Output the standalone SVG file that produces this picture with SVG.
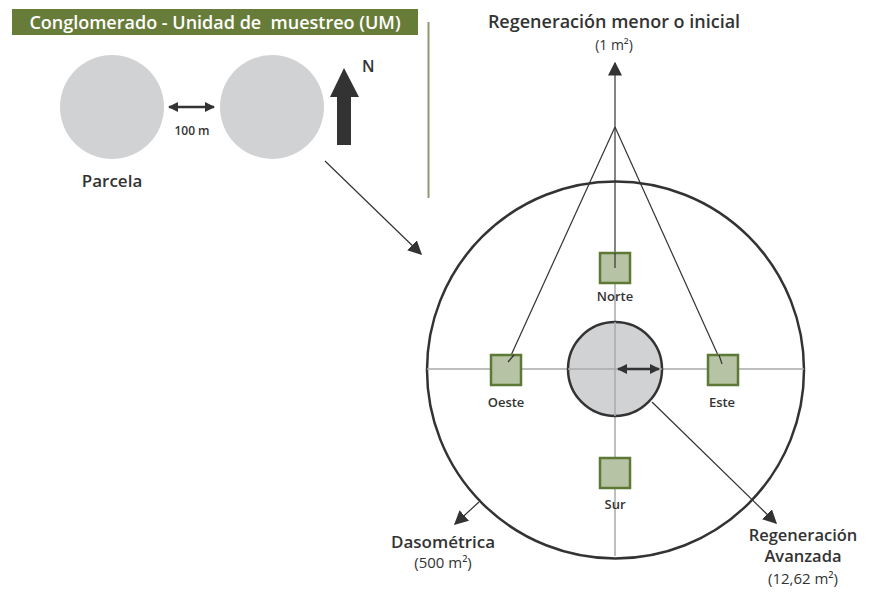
<svg xmlns="http://www.w3.org/2000/svg" width="869" height="593" viewBox="0 0 869 593">
<style>
.t{font-family:"Open Sans","Noto Sans",sans-serif;fill:#333}
.b{font-weight:600}
.l{font-weight:400}
.sq{fill:#b6c3a4;stroke:#5e7836;stroke-width:2.5}
.gl{stroke:#aaa;stroke-width:1.5;fill:none}
.dk{stroke:#333;stroke-width:1.2;fill:none}
</style>
<defs>
<marker id="ah2" viewBox="0 0 10 10" refX="9" refY="5" markerWidth="14" markerHeight="14" markerUnits="userSpaceOnUse" orient="auto"><path d="M0,0 L10,5 L0,10 Z" fill="#333"/></marker>
<marker id="sm" viewBox="0 0 10 10" refX="9" refY="5" markerWidth="10" markerHeight="10" markerUnits="userSpaceOnUse" orient="auto-start-reverse"><path d="M0,0 L10,5 L0,10 Z" fill="#333"/></marker>
</defs>
<rect width="869" height="593" fill="#fff"/>

<g id="header">
<rect x="12" y="9" width="406" height="26" fill="#687c3a"/>
<text class="t b" x="215" y="28.5" font-size="18" text-anchor="middle" style="fill:#fff">Conglomerado - Unidad de&#160; muestreo (UM)</text>
</g>
<line x1="428.5" y1="22" x2="428.5" y2="198" stroke="#8e9a72" stroke-width="2"/>

<g id="parcela1"><circle cx="112" cy="107" r="52" fill="#d1d2d4"/></g>
<g id="parcela2"><circle cx="272" cy="107" r="52" fill="#d1d2d4"/></g>
<text class="t b" x="112" y="187" font-size="17" text-anchor="middle">Parcela</text>
<line x1="169" y1="107" x2="214" y2="107" stroke="#333" stroke-width="2.5" marker-start="url(#sm)" marker-end="url(#sm)"/>
<text class="t b" x="192" y="135" font-size="12" text-anchor="middle">100 m</text>

<g id="north">
<polygon points="344,68 359,97 351,97 351,145 337,145 337,97 330,97" fill="#333"/>
<text class="t b" x="362" y="72" font-size="16">N</text>
</g>

<g id="connectors">
<line class="dk" x1="325" y1="161" x2="421" y2="254" marker-end="url(#ah2)"/>
<line class="gl" x1="615" y1="268" x2="615" y2="556"/>
<line class="dk" x1="615" y1="127" x2="615" y2="63" marker-end="url(#ah2)"/>
<line class="dk" x1="615" y1="127" x2="615" y2="268"/>
<line class="dk" x1="615" y1="127" x2="508" y2="362"/>
<line class="dk" x1="615" y1="127" x2="722" y2="364"/>
<line class="dk" x1="652" y1="402" x2="776" y2="523" marker-end="url(#ah2)"/>
<line class="dk" x1="479" y1="502" x2="455" y2="524" marker-end="url(#ah2)"/>
</g>

<g id="dasometrica">
<circle cx="615.5" cy="370" r="188.5" fill="none" stroke="#333" stroke-width="2.5"/>
<line class="gl" x1="427" y1="369" x2="804" y2="369"/>
</g>

<g id="regeneracion-avanzada">
<circle cx="615" cy="369" r="47" fill="#d1d2d4" stroke="#333" stroke-width="2.5"/>
<line class="gl" x1="615" y1="322" x2="615" y2="416"/>
<line class="gl" x1="568" y1="369" x2="662" y2="369"/>
<line x1="618" y1="369" x2="659" y2="369" stroke="#333" stroke-width="2.5" marker-start="url(#sm)" marker-end="url(#sm)"/>
</g>

<g id="norte"><rect class="sq" x="600" y="253" width="30" height="30"/><line class="dk" x1="615" y1="253" x2="615" y2="268"/><text class="t b" x="615" y="301" font-size="13" text-anchor="middle">Norte</text></g>
<g id="oeste"><rect class="sq" x="491" y="355" width="30" height="30"/><line class="dk" x1="514" y1="355" x2="508" y2="362"/><text class="t b" x="506" y="407" font-size="13" text-anchor="middle">Oeste</text></g>
<g id="este"><rect class="sq" x="708" y="355" width="30" height="30"/><line class="dk" x1="719" y1="355" x2="722" y2="364"/><text class="t b" x="722" y="407" font-size="13" text-anchor="middle">Este</text></g>
<g id="sur"><rect class="sq" x="600" y="458" width="30" height="30"/><text class="t b" x="615" y="509" font-size="13" text-anchor="middle">Sur</text></g>

<g id="labels">
<text class="t b" x="614" y="28" font-size="18" text-anchor="middle">Regeneración menor o inicial</text>
<text class="t l" x="614" y="50" font-size="14" text-anchor="middle">(1 m²)</text>
<text class="t b" x="443" y="548" font-size="17" text-anchor="middle">Dasométrica</text>
<text class="t l" x="443" y="568" font-size="15" text-anchor="middle">(500 m²)</text>
<text class="t b" x="803" y="541" font-size="16.5" text-anchor="middle">Regeneración</text>
<text class="t b" x="803" y="562" font-size="16.5" text-anchor="middle">Avanzada</text>
<text class="t l" x="803" y="584" font-size="15" text-anchor="middle">(12,62 m²)</text>
</g>
</svg>
